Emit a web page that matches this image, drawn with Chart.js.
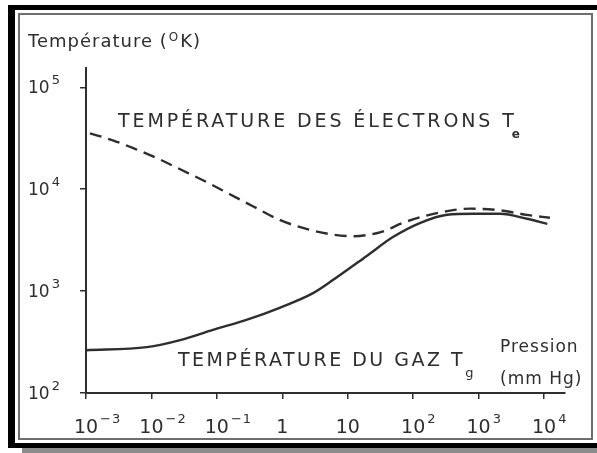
<!DOCTYPE html>
<html>
<head>
<meta charset="utf-8">
<script src="https://cdn.jsdelivr.net/npm/chart.js@4.4.1/dist/chart.umd.min.js"></script>
<style>
  body { margin: 0; background: #fff; }
  #wrap { position: relative; width: 597px; height: 453px; overflow: hidden; background: #fff; }
  .bar { position: absolute; background: #000; }
  #shadow { position: absolute; left: 22px; top: 448px; width: 575px; height: 5px; background: #8c8c8c; }
  #inner { position: absolute; left: 18px; top: 13px; width: 571px; height: 423px; border: 2px solid #6e6e6e; }
  canvas { position: absolute; left: 0; top: 0; }
</style>
</head>
<body>
<div id="wrap">
  <div class="bar" style="left:8px;top:5px;width:589px;height:5px"></div>
  <div class="bar" style="left:8px;top:5px;width:7px;height:443px"></div>
  <div class="bar" style="left:8px;top:443px;width:589px;height:5px"></div>
  <div id="shadow"></div>
  <div id="inner"></div>
  <canvas id="chart" width="597" height="453"></canvas>
</div>
<script>
// pression (mm Hg) / temperature (K)
var electronP = [0.00115, 0.00257, 0.0056, 0.0123, 0.0275, 0.0708, 0.158, 0.355, 0.93, 2.4, 6.0, 12, 32, 71, 141, 288, 740, 2140, 5500, 12300];
var electronT = [35400, 30200, 24900, 20100, 15700, 11700, 8930, 6810, 4970, 4060, 3580, 3460, 3800, 4700, 5400, 6000, 6450, 6200, 5600, 5250];

var gasP = [0.001, 0.0085, 0.0275, 0.087, 0.29, 0.93, 2.95, 6.0, 20, 49, 129, 331, 832, 2140, 5500, 11200];
var gasT = [263, 282, 331, 417, 525, 690, 955, 1290, 2240, 3390, 4680, 5620, 5750, 5750, 5130, 4570];

var xTicks = [1e-3, 1e-2, 1e-1, 1, 10, 1e2, 1e3, 1e4];
var xTickLabels = [['10', '\u22123'], ['10', '\u22122'], ['10', '\u22121'], ['1', ''], ['10', ''], ['10', '2'], ['10', '3'], ['10', '4']];
var yTicks = [1e2, 1e3, 1e4, 1e5];
var yTickLabels = [['10', '2'], ['10', '3'], ['10', '4'], ['10', '5']];

var ink = '#2e2e2e';
var fam = '"DejaVu Sans", sans-serif';

function pts(xs, ys) {
  return xs.map(function (x, i) { return { x: x, y: ys[i] }; });
}

function txt(ctx, s, x, y, size, spacing, align) {
  ctx.font = size + 'px ' + fam;
  ctx.letterSpacing = (spacing || 0) + 'px';
  ctx.textAlign = align || 'left';
  ctx.fillText(s, x, y);
  return ctx.measureText(s).width;
}

var labels = {
  id: 'labels',
  afterDraw: function (chart) {
    var ctx = chart.ctx, xs = chart.scales.x, ys = chart.scales.y;
    ctx.save();
    ctx.fillStyle = ink;
    ctx.textBaseline = 'alphabetic';

    // tick labels
    xTicks.forEach(function (v, i) {
      var px = xs.getPixelForValue(v);
      ctx.font = '19px ' + fam;
      ctx.letterSpacing = '0px';
      var w = ctx.measureText(xTickLabels[i][0]).width;
      txt(ctx, xTickLabels[i][0], px - w / 2, 433, 19, 0);
      if (xTickLabels[i][1]) txt(ctx, xTickLabels[i][1], px + w / 2 + 2, 423, 13, 1);
    });
    yTicks.forEach(function (v, i) {
      var py = ys.getPixelForValue(v);
      var w = txt(ctx, yTickLabels[i][0], 28, py + 6, 17, 0);
      txt(ctx, yTickLabels[i][1], 28 + w + 2, py - 3, 13, 0);
    });

    // axis titles
    var w1 = txt(ctx, 'Temp\u00e9rature (', 28, 47, 18, 1);
    var w2 = txt(ctx, 'O', 28 + w1 + 1, 41, 12, 0);
    txt(ctx, 'K)', 28 + w1 + w2 + 3, 47, 18, 1);
    txt(ctx, 'Pression', 500, 352, 17, 1);
    txt(ctx, '(mm Hg)', 500, 384, 17, 1);

    // curve labels
    var a = txt(ctx, 'TEMP\u00c9RATURE DES \u00c9LECTRONS T', 118, 127, 19, 2.9);
    ctx.font = 'bold 12px ' + fam;
    ctx.letterSpacing = '0px';
    ctx.fillText('e', 118 + a - 5, 138);
    var b = txt(ctx, 'TEMP\u00c9RATURE DU GAZ T', 178, 366, 19, 2.5);
    txt(ctx, 'g', 178 + b, 377, 13, 0);
    ctx.restore();
  }
};

new Chart(document.getElementById('chart'), {
  type: 'line',
  data: {
    datasets: [
      {
        label: 'Te',
        data: pts(electronP, electronT),
        borderColor: ink,
        borderWidth: 2.4,
        borderDash: [12, 7],
        pointRadius: 0,
        cubicInterpolationMode: 'monotone',
        fill: false
      },
      {
        label: 'Tg',
        data: pts(gasP, gasT),
        borderColor: ink,
        borderWidth: 2.4,
        pointRadius: 0,
        cubicInterpolationMode: 'monotone',
        fill: false
      }
    ]
  },
  options: {
    responsive: false,
    animation: false,
    devicePixelRatio: 1,
    layout: { padding: { left: 0, top: 68, right: 32, bottom: 0 } },
    plugins: { legend: { display: false }, tooltip: { enabled: false } },
    scales: {
      x: {
        type: 'logarithmic',
        min: 1e-3,
        max: Math.pow(10, 4.32),
        afterBuildTicks: function (s) { s.ticks = xTicks.map(function (v) { return { value: v }; }); },
        afterFit: function (s) { s.height = 60; },
        ticks: { display: false },
        grid: { drawOnChartArea: false, drawTicks: true, tickLength: 6, color: ink, lineWidth: 1.5 },
        border: { display: true, color: ink, width: 2 }
      },
      y: {
        type: 'logarithmic',
        min: 100,
        max: Math.pow(10, 5.19),
        afterBuildTicks: function (s) { s.ticks = yTicks.map(function (v) { return { value: v }; }); },
        afterFit: function (s) { s.width = 86; },
        ticks: { display: false },
        grid: { drawOnChartArea: false, drawTicks: true, tickLength: 6, color: ink, lineWidth: 1.5 },
        border: { display: true, color: ink, width: 2 }
      }
    }
  },
  plugins: [labels]
});
</script>
</body>
</html>
